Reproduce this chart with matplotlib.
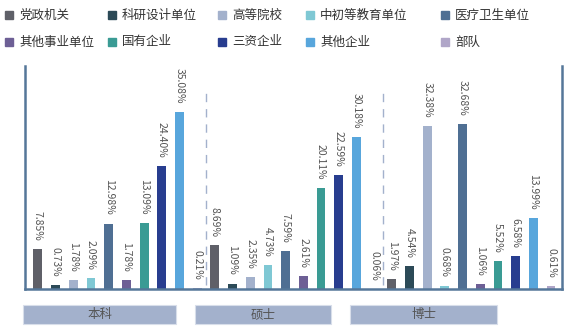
import matplotlib
matplotlib.use("Agg")
import matplotlib.pyplot as plt
from matplotlib.patches import Rectangle
import numpy as np

plt.rcParams['font.family'] = ['Noto Sans CJK SC', 'DejaVu Sans']

categories = ["党政机关", "科研设计单位", "高等院校", "中初等教育单位", "医疗卫生单位",
              "其他事业单位", "国有企业", "三资企业", "其他企业", "部队"]
groups = ["本科", "硕士", "博士"]
benke = [7.85, 0.73, 1.78, 2.09, 12.98, 1.78, 13.09, 24.40, 35.08, 0.21]
shuoshi = [8.69, 1.09, 2.35, 4.73, 7.59, 2.61, 20.11, 22.59, 30.18, 0.06]
boshi = [1.97, 4.54, 32.38, 0.68, 32.68, 1.06, 5.52, 6.58, 13.99, 0.61]
colors = ["#5f6068", "#2c4a57", "#a3b1cc", "#7fc8d4", "#4f6f93",
          "#6d5f95", "#3a9b94", "#283d8f", "#58a6dc", "#b0a6c8"]

W, H = 586, 334
fig = plt.figure(figsize=(W / 100, H / 100), dpi=100)
ax = fig.add_axes([25 / W, 45 / H, (562 - 25) / W, (289 - 66) / H])

n = len(categories)
series = [benke, shuoshi, boshi]
for g, vals in enumerate(series):
    x = np.arange(n) + g * n
    ax.bar(x, vals, width=0.5, color=colors, zorder=2)
    for xi, v in zip(x, vals):
        ax.annotate(f"{v:.2f}%", (xi, v), xytext=(0, 6), textcoords="offset points",
                    rotation=270, ha="center", va="bottom", fontsize=7.5, color="#555555")

for sep in [n - 0.5, 2 * n - 0.5]:
    ax.plot([sep, sep], [0.8, 39.5], color="#a3b1cc", lw=1.0, ls=(0, (6, 5)), zorder=1)

ax.set_xlim(-0.73, 3 * n - 1 + 0.62)
ax.set_ylim(0, 44.2)
ax.set_xticks([])
ax.set_yticks([])
ax.spines['top'].set_visible(False)
for s in ['left', 'right', 'bottom']:
    ax.spines[s].set_color("#557799")
    ax.spines[s].set_linewidth(1.8)

# legend
col_x = [5, 108, 218, 306, 441]
row_y = [15, 42]
for i, (cat, c) in enumerate(zip(categories, colors)):
    r, cidx = divmod(i, 5)
    x0 = col_x[cidx]
    y0 = row_y[r]
    fig.patches.append(Rectangle((x0 / W, 1 - (y0 + 4) / H), 8 / W, 8 / H,
                                 transform=fig.transFigure, color=c))
    fig.text((x0 + 14) / W, 1 - y0 / H, cat, fontsize=9, color="#333333",
             ha="left", va="center")

# group label boxes
boxes = [(23, 176), (195, 331), (350, 497)]
for (x0, x1), gname in zip(boxes, groups):
    fig.patches.append(Rectangle((x0 / W, 1 - 324 / H), (x1 - x0) / W, 19 / H,
                                 transform=fig.transFigure, facecolor="#a3b1cc",
                                 edgecolor="#d8deea", lw=0.8))
    fig.text((x0 + x1) / 2 / W, 1 - 314.5 / H, gname, fontsize=9, color="#555555",
             ha="center", va="center")

fig.savefig("out.png", dpi=100)
